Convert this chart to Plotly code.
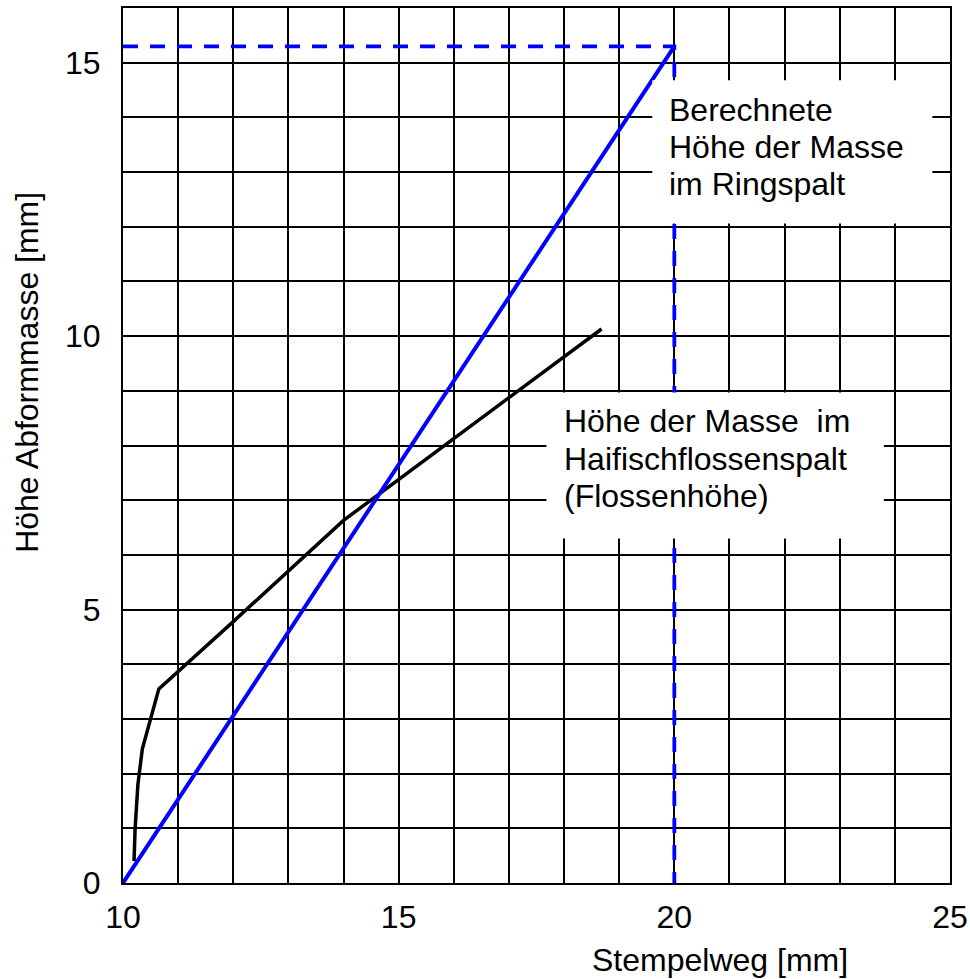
import plotly.graph_objects as go

# Stamp travel vs. height of impression material
stempelweg = [10.2, 10.22, 10.27, 10.35, 10.65, 12.0, 14.0, 15.0, 16.0, 17.0, 18.68]
hoehe_flosse = [0.4, 1.0, 1.8, 2.45, 3.55, 4.78, 6.63, 7.38, 8.13, 8.88, 10.13]

# Computed height in the annular gap (linear)
x_ring = [10, 20]
y_ring = [0, 15.3]

# Guide lines to the end point of the computed height
x_guide = [10, 20, 20]
y_guide = [15.3, 15.3, 0]

x_ticks = [10, 15, 20, 25]
y_ticks = [0, 5, 10, 15]

label_ring = ["Berechnete", "Höhe der Masse", "im Ringspalt"]
label_flosse = ["Höhe der Masse  im", "Haifischflossenspalt", "(Flossenhöhe)"]

FONT = "Liberation Sans, Arial, Helvetica, sans-serif"
FS = 32

fig = go.Figure()

fig.add_trace(go.Scatter(
    x=stempelweg, y=hoehe_flosse, mode="lines",
    line=dict(color="black", width=3.5), showlegend=False))

fig.add_trace(go.Scatter(
    x=x_ring, y=y_ring, mode="lines",
    line=dict(color="#0000ff", width=4), showlegend=False))

fig.add_trace(go.Scatter(
    x=x_guide, y=y_guide, mode="lines",
    line=dict(color="#0000ff", width=3.8, dash="15px,12px"), showlegend=False))

# White label boxes drawn over the grid
fig.add_shape(type="rect", xref="x", yref="y", x0=19.6, x1=24.68, y0=12.06, y1=14.68,
              fillcolor="white", line=dict(width=0), layer="above")
fig.add_shape(type="rect", xref="x", yref="y", x0=17.68, x1=23.8, y0=6.30, y1=8.97,
              fillcolor="white", line=dict(width=0), layer="above")

# Label lines, one annotation per line for tight line spacing
for txt, yv in zip(label_ring, [14.13, 13.45, 12.78]):
    fig.add_annotation(x=19.88, y=yv, xref="x", yref="y", xanchor="left", yanchor="middle",
                       text=txt, showarrow=False, align="left", borderpad=0,
                       font=dict(family=FONT, size=FS, color="black"))
for txt, yv in zip(label_flosse, [8.45, 7.76, 7.08]):
    fig.add_annotation(x=17.985, y=yv, xref="x", yref="y", xanchor="left", yanchor="middle",
                       text=txt, showarrow=False, align="left", borderpad=0,
                       font=dict(family=FONT, size=FS, color="black"))

# Axis titles
fig.add_annotation(x=20.82, y=-0.0875, xref="x", yref="paper", xanchor="center", yanchor="middle",
                   text="Stempelweg [mm]", showarrow=False,
                   font=dict(family=FONT, size=FS, color="black"))
fig.add_annotation(x=-0.116, y=9.33, xref="paper", yref="y", xanchor="center", yanchor="middle",
                   text="Höhe Abformmasse [mm]", textangle=-90, showarrow=False,
                   font=dict(family=FONT, size=FS, color="black"))

axis_common = dict(
    showgrid=True, gridcolor="black", gridwidth=2,
    showline=True, linecolor="black", linewidth=2, mirror=True,
    zeroline=False, ticks="outside", tickcolor="rgba(0,0,0,0)",
    tickfont=dict(family=FONT, size=FS, color="black"),
    minor=dict(dtick=1, showgrid=True, gridcolor="black", gridwidth=2, ticks=""),
)

fig.update_xaxes(range=[10, 25], tickvals=x_ticks, ticklen=5, **axis_common)
fig.update_yaxes(range=[0, 16], tickvals=y_ticks, ticklen=14, **axis_common)

fig.update_layout(
    width=970, height=979,
    margin=dict(l=123, r=20, t=8, b=96, autoexpand=False),
    paper_bgcolor="white", plot_bgcolor="white",
    font=dict(family=FONT, size=FS, color="black"),
    showlegend=False,
)

fig.write_html("out.html")
